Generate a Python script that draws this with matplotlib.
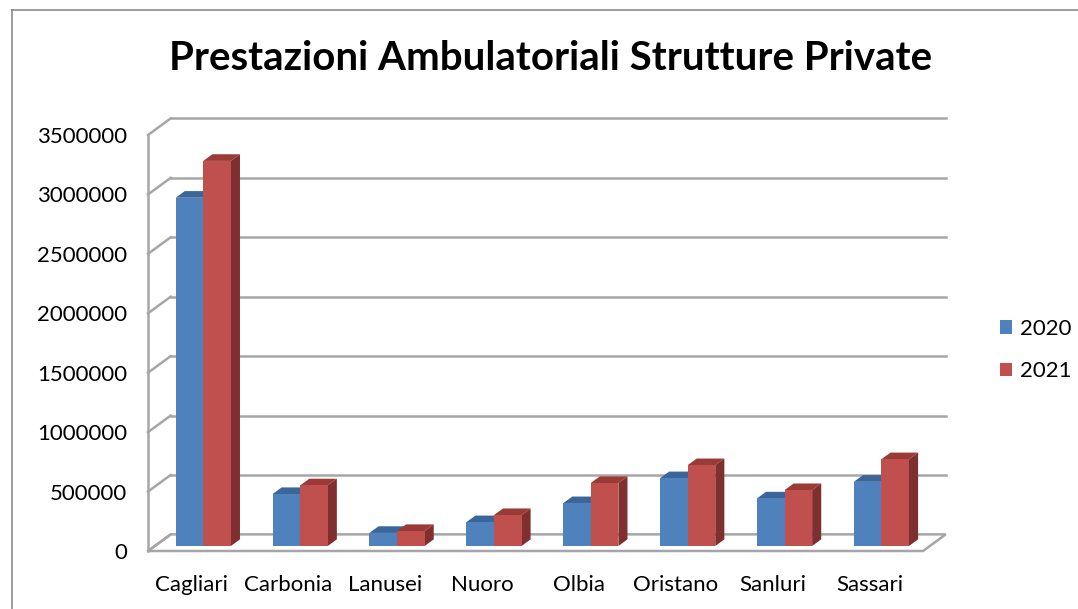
import matplotlib.pyplot as plt
from matplotlib.patches import Polygon, Rectangle, Patch
from matplotlib.lines import Line2D

# ---------------------------------------------------------------------------
# data
# ---------------------------------------------------------------------------
categories = ["Cagliari", "Carbonia", "Lanusei", "Nuoro",
              "Olbia", "Oristano", "Sanluri", "Sassari"]
years = ["2020", "2021"]
values_2020 = [2930000, 437000, 110000, 200000, 360000, 570000, 400000, 540000]
values_2021 = [3240000, 510000, 126000, 260000, 530000, 680000, 470000, 730000]
y_ticks = [0, 500000, 1000000, 1500000, 2000000, 2500000, 3000000, 3500000]
title = "Prestazioni Ambulatoriali Strutture Private"

# ---------------------------------------------------------------------------
# style (Excel 2007 look)
# ---------------------------------------------------------------------------
plt.rcParams["font.family"] = ["Lato", "DejaVu Sans"]
GRID = "#a6a6a6"
COLS = {
    "2020": ("#4f81bd", "#3b6699", "#2f527c"),   # front, top, side
    "2021": ("#c0504d", "#9b3b38", "#7f302e"),
}
DX, DY = 0.235, 140000      # full depth of the floor, data units
D0, D1 = 0.30, 0.70         # bar depth position (fraction of floor depth)
BAR_W = 0.285


def bar3d(ax, x0, h, cols):
    front, top, side = cols
    x0 = x0 + D0 * DX
    b = D0 * DY
    t = h + b
    x1 = x0 + BAR_W
    ex, ey = (D1 - D0) * DX, (D1 - D0) * DY
    ax.add_patch(Polygon([(x0, t), (x1, t), (x1 + ex, t + ey), (x0 + ex, t + ey)],
                         fc=top, ec="none", clip_on=False, zorder=3))
    ax.add_patch(Polygon([(x1, b), (x1 + ex, b + ey), (x1 + ex, t + ey), (x1, t)],
                         fc=side, ec="none", clip_on=False, zorder=3))
    ax.add_patch(Rectangle((x0, b), BAR_W, h, fc=front, ec="none",
                           clip_on=False, zorder=3))


fig = plt.figure(figsize=(10.78, 6.09), dpi=100)
ax = fig.add_axes([148 / 1078, 58 / 609, 775 / 1078, 416 / 609])
ax.set_xlim(-0.5, 7.5)
ax.set_ylim(0, 3500000)
ax.patch.set_visible(False)
for s in ax.spines.values():
    s.set_visible(False)

n = len(categories)
# floor
ax.add_patch(Polygon([(-0.5, 0), (n - 0.5, 0), (n - 0.5 + DX, DY), (-0.5 + DX, DY)],
                     fc="white", ec=GRID, lw=1.8, clip_on=False, zorder=1))
# walls
ax.plot([-0.5, -0.5], [0, y_ticks[-1]], color=GRID, lw=1.8, clip_on=False, zorder=1)
for v in y_ticks:
    ax.plot([-0.5, -0.5 + DX], [v, v + DY], color=GRID, lw=1.8, clip_on=False, zorder=1)
    if v > 0:
        ax.plot([-0.5 + DX, n - 0.5 + DX], [v + DY, v + DY], color=GRID, lw=1.8,
                clip_on=False, zorder=1)

# bars (2020 first so the 2021 bar covers its side)
for i in range(n):
    bar3d(ax, i - BAR_W, values_2020[i], COLS["2020"])
    bar3d(ax, i, values_2021[i], COLS["2021"])

ax.set_yticks(y_ticks)
ax.set_yticklabels([str(v) for v in y_ticks], fontsize=16)
ax.set_xticks([i - 0.05 for i in range(n)])
ax.set_xticklabels(categories, fontsize=16)
ax.tick_params(axis="y", length=0, pad=15)
ax.tick_params(axis="x", length=0, pad=17)

fig.text(551 / 1078, 1 - 59 / 609, title, ha="center", va="center",
         fontsize=29, fontweight="bold")

handles = [Patch(fc=COLS[y][0], ec="none") for y in years]
fig.legend(handles, years, loc="center left", bbox_to_anchor=(1000 / 1078, 1 - 350 / 609),
           frameon=False, fontsize=16, handlelength=0.55, handleheight=0.55,
           handletextpad=0.35, labelspacing=1.0, borderpad=0.0, borderaxespad=0.0)

# chart-area border
fig.add_artist(Line2D([12 / 1078, 12 / 1078], [0, 1 - 10 / 609], color="#8c8c8c", lw=1.2))
fig.add_artist(Line2D([12 / 1078, 1], [1 - 10 / 609, 1 - 10 / 609], color="#8c8c8c", lw=1.2))

fig.savefig("out.png", dpi=100)
